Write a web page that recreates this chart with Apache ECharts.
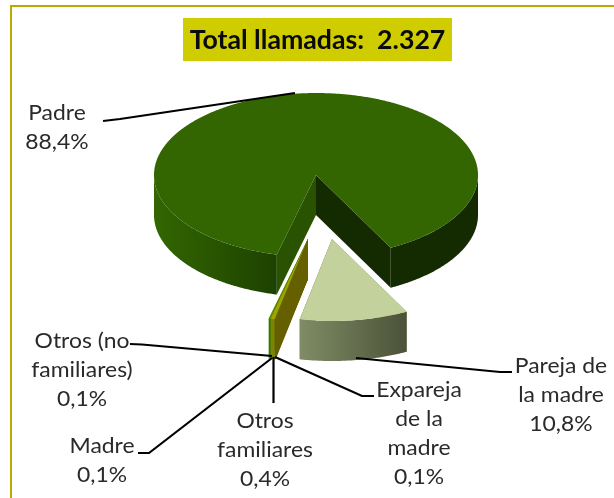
<!DOCTYPE html>
<html><head><meta charset="utf-8">
<style>html,body{margin:0;padding:0;background:#fff}#c{width:614px;height:498px}</style>
<script src="https://cdn.jsdelivr.net/npm/echarts@6/dist/echarts.min.js"></script>
</head><body><div id="c"></div>
<script>
// ---- data ----
var categories = ['Padre', 'Pareja de\nla madre', 'Expareja\nde la\nmadre', 'Otros\nfamiliares', 'Madre', 'Otros (no\nfamiliares)'];
var shares = [88.4, 10.8, 0.1, 0.4, 0.1, 0.1];
var titleText = 'Total llamadas:  2.327';

// ---- styling / layout (not data) ----
var geo = { cx: 316, cy: 175, rx: 162, ry: 82, depth: 40, startAngle: 194 };
var drawOrder = [0, 5, 4, 3, 2, 1];
var explode = [[0, 0], [16, 64], [-8, 64], [-8, 64], [-8, 64], [-8, 64]];
var topColors = ['#336600', '#c3d29c', '#667000', '#a3a300', '#669900', '#669900'];
var faceColors = [['#295300', '#142a00'], ['#7d8a63', '#4d5339'], ['#665f00', '#665f00'], ['#7d8500', '#7d8500'], ['#3b7300', '#3b7300'], ['#3b7300', '#3b7300']];
var sideStyles = [
  [['#336600', '#1d4200'], ['#142a00', '#142a00']],
  [['#7f8c65', '#4c5238']],
  [['#4f6500', '#4f6500']],
  [['#7d8500', '#7d8500']],
  [['#3b7300', '#3b7300']],
  [['#3b7300', '#3b7300']]
];
var labelPos = [[57, 128], [561, 395], [419, 434], [265, 450], [102, 461], [82, 370]];
var leaders = [
  [[103, 121], [120, 119], [295, 93]],
  [[356, 358], [500, 372], [512, 372]],
  [[275, 357], [362, 396], [374, 396]],
  [[273.5, 357], [273.5, 403]],
  [[272, 358], [149, 453], [138, 453]],
  [[272, 356], [142, 344.5], [130, 344]]
];
var labelFont = 'Lato, "Open Sans", sans-serif';

function pct(v) { return v.toFixed(1).replace('.', ',') + '%'; }
function pt(phi, ox, oy, dz) {
  var a = phi * Math.PI / 180;
  return [geo.cx + ox + geo.rx * Math.sin(a), geo.cy + oy - geo.ry * Math.cos(a) + (dz || 0)];
}
function arc(a0, a1, ox, oy, dz) {
  var out = [], n = Math.max(2, Math.ceil(Math.abs(a1 - a0) * 2));
  for (var i = 0; i <= n; i++) out.push(pt(a0 + (a1 - a0) * i / n, ox, oy, dz));
  return out;
}
function hgrad(c) { return { type: 'linear', x: 0, y: 0, x2: 1, y2: 0, colorStops: [{ offset: 0, color: c[0] }, { offset: 1, color: c[1] }] }; }
function visibleRanges(a0, a1) {
  var out = [];
  for (var k = 0; k < 3; k++) {
    var lo = Math.max(a0, 90 + 360 * k), hi = Math.min(a1, 270 + 360 * k);
    if (hi > lo) out.push([lo, hi]);
  }
  return out;
}
function renderSlice(params, api) {
  var idx = api.value(1);
  var sum = 0;
  for (var i = 0; i < shares.length; i++) sum += shares[i];
  var before = 0;
  for (i = 0; i < idx; i++) before += shares[i];
  var a0 = geo.startAngle + before / sum * 360;
  var a1 = a0 + api.value(0) / sum * 360;
  var ox = explode[idx][0], oy = explode[idx][1], d = geo.depth;
  var kids = [];
  function poly(points, fill) {
    kids.push({ type: 'polygon', shape: { points: points }, style: { fill: fill, stroke: null } });
  }
  var apex = [geo.cx + ox, geo.cy + oy], apexB = [apex[0], apex[1] + d];
  var s0 = pt(a0, ox, oy), s1 = pt(a1, ox, oy);
  poly([apex, s0, [s0[0], s0[1] + d], apexB], faceColors[idx][0]);
  poly([apex, s1, [s1[0], s1[1] + d], apexB], faceColors[idx][1]);
  visibleRanges(a0, a1).forEach(function (r, j) {
    var top = arc(r[0], r[1], ox, oy, 0), bot = arc(r[1], r[0], ox, oy, d);
    var st = sideStyles[idx][j] || sideStyles[idx][0];
    poly(top.concat(bot), hgrad(st));
  });
  poly([apex].concat(arc(a0, a1, ox, oy, 0)), topColors[idx]);
  return { type: 'group', children: kids };
}
function renderLabel(params, api) {
  var idx = api.value(0);
  var text = categories[idx] + '\n' + pct(shares[idx]);
  return { type: 'group', children: [
    { type: 'polyline', shape: { points: leaders[idx] }, style: { stroke: '#000', lineWidth: 2.2, fill: null } },
    { type: 'text', x: labelPos[idx][0], y: labelPos[idx][1], scaleX: 1.09,
      style: { text: text, x: 0, y: 0, align: 'center', verticalAlign: 'middle',
      font: '400 21px ' + labelFont, lineHeight: 29, fill: '#2a2a2a' } }
  ] };
}
var chart = echarts.init(document.getElementById('c'), null, { renderer: 'canvas' });
chart.setOption({
  animation: false,
  backgroundColor: '#fff',
  graphic: [
    { type: 'rect', shape: { x: 11, y: 6, width: 640, height: 520 }, style: { fill: 'none', stroke: '#b8aa00', lineWidth: 2 }, silent: true, z: 0 },
    { type: 'rect', shape: { x: 183, y: 18, width: 269, height: 43 }, style: { fill: '#cfcc00' }, z: 5 },
    { type: 'text', style: { text: titleText, x: 317.5, y: 40, align: 'center', verticalAlign: 'middle', font: '700 26.7px ' + labelFont, fill: '#0a0a0a' }, z: 6 }
  ],
  series: [
    { type: 'custom', coordinateSystem: 'none', silent: true, z: 2, clip: false,
      data: drawOrder.map(function (i) { return [shares[i], i]; }), renderItem: renderSlice, encode: { value: 0 } },
    { type: 'custom', coordinateSystem: 'none', silent: true, z: 3, clip: false,
      data: categories.map(function (c, i) { return [i]; }), renderItem: renderLabel }
  ]
});
</script></body></html>
